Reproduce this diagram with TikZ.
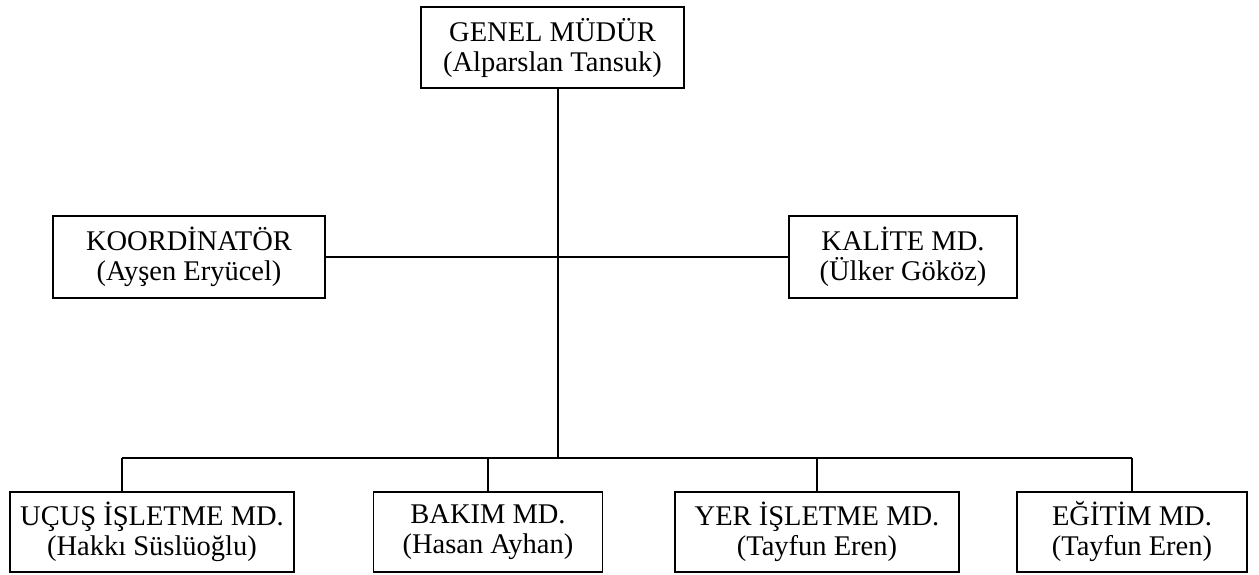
\documentclass[tikz,border=0pt]{standalone}
\usepackage{fontspec}
\setmainfont{Liberation Serif}
\begin{document}
\begin{tikzpicture}[x=1pt,y=-1pt,
  unit/.style={draw, line width=1.7pt, rectangle, align=center, inner sep=0pt,
    font=\fontsize{28.5}{30}\selectfont},
  link/.style={line width=1.7pt}]
\useasboundingbox (0,0) rectangle (1259,574);

% top of the chart
\node[unit, minimum width=263pt, minimum height=81pt] (gm) at (552.5,47.5)
  {GENEL MÜDÜR\\(Alparslan Tansuk)};

% staff positions
\node[unit, minimum width=272pt, minimum height=82pt] (koord) at (189,257)
  {KOORDİNATÖR\\(Ayşen Eryücel)};
\node[unit, minimum width=228pt, minimum height=82pt] (kalite) at (903,257)
  {KALİTE MD.\\(Ülker Gököz)};

% line departments
\node[unit, minimum width=284pt, minimum height=80pt] (ucus) at (152,532)
  {UÇUŞ İŞLETME MD.\\(Hakkı Süslüoğlu)};
\node[unit, minimum width=229pt, minimum height=80pt] (bakim) at (488,532)
  {BAKIM MD.\\(Hasan Ayhan)};
\node[unit, minimum width=284pt, minimum height=80pt] (yer) at (817,532)
  {YER İŞLETME MD.\\(Tayfun Eren)};
\node[unit, minimum width=230pt, minimum height=80pt] (egitim) at (1132,532)
  {EĞİTİM MD.\\(Tayfun Eren)};

% junction points on the distribution bus
\coordinate (hub) at (558,458);
\coordinate (b1) at (122,458);
\coordinate (b2) at (bakim.north |- hub);
\coordinate (b3) at (yer.north |- hub);
\coordinate (b4) at (1132,458);

% connectors
\draw[link] (gm.south -| hub) -- (hub);
\draw[link] (koord.east) -- (kalite.west);
\draw[link] (b1) -- (b4);
\draw[link] (b1) -- (b1 |- ucus.north);
\draw[link] (b2) -- (bakim.north);
\draw[link] (b3) -- (yer.north);
\draw[link] (b4) -- (b4 |- egitim.north);
\end{tikzpicture}
\end{document}
